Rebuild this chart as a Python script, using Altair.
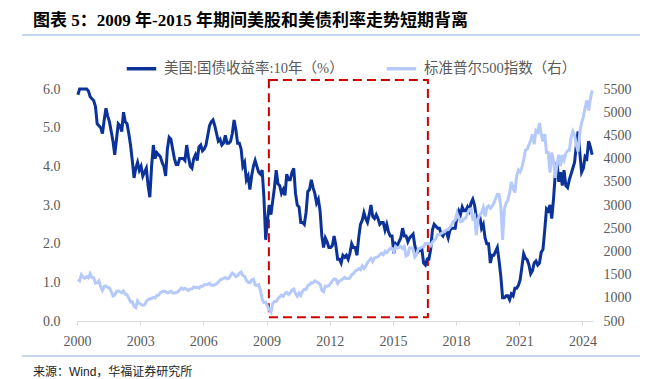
import altair as alt
import pandas as pd

# ---------------- data (monthly, Jan 2000 - Jun 2024) ----------------
yield_10y = [
    5.85, 6.0, 6.0, 6.0, 6.0, 6.0, 5.95, 5.8, 5.75, 5.7, 5.55, 5.1,      # 2000
    5.05, 5.0, 4.85, 5.2, 5.5, 5.3, 5.15, 4.9, 4.65, 4.3, 4.7, 5.1,      # 2001
    5.05, 4.9, 5.4, 5.15, 5.1, 4.85, 4.55, 4.15, 3.7, 3.95, 4.1, 3.9,    # 2002
    4.0, 3.75, 3.85, 3.95, 3.5, 3.2, 4.0, 4.55, 4.2, 4.35, 4.3, 4.25,    # 2003
    4.1, 4.0, 3.75, 4.45, 4.75, 4.7, 4.45, 4.2, 4.05, 4.05, 4.2, 4.2,    # 2004
    4.2, 4.15, 4.55, 4.25, 4.0, 3.95, 4.2, 4.3, 4.15, 4.5, 4.55, 4.4,    # 2005
    4.45, 4.55, 4.8, 5.05, 5.15, 5.2, 5.05, 4.85, 4.65, 4.7, 4.55, 4.6,  # 2006
    4.8, 4.6, 4.6, 4.65, 4.85, 5.2, 4.95, 4.6, 4.6, 4.45, 4.0, 4.1,      # 2007
    3.65, 3.75, 3.4, 3.75, 4.0, 4.15, 4.0, 3.85, 3.8, 3.9, 3.2, 2.1,     # 2008
    2.6, 3.0, 2.75, 3.1, 3.45, 3.9, 3.55, 3.5, 3.3, 3.4, 3.25, 3.8,      # 2009
    3.65, 3.65, 3.85, 3.95, 3.3, 3.0, 2.95, 2.55, 2.55, 2.5, 2.8, 3.35,  # 2010
    3.4, 3.65, 3.45, 3.3, 3.05, 3.15, 2.85, 2.2, 1.9, 2.15, 2.05, 1.9,   # 2011
    1.9, 1.95, 2.2, 1.95, 1.6, 1.6, 1.5, 1.7, 1.65, 1.7, 1.6, 1.75,      # 2012
    2.0, 1.9, 1.9, 1.7, 2.15, 2.5, 2.6, 2.8, 2.65, 2.55, 2.75, 3.0,      # 2013
    2.7, 2.65, 2.75, 2.65, 2.5, 2.55, 2.55, 2.35, 2.5, 2.3, 2.2, 2.2,    # 2014
    1.75, 2.0, 1.95, 2.05, 2.15, 2.4, 2.2, 2.2, 2.05, 2.15, 2.2, 2.25,   # 2015
    1.95, 1.75, 1.8, 1.85, 1.85, 1.5, 1.45, 1.6, 1.6, 1.85, 2.35, 2.5,   # 2016
    2.45, 2.4, 2.4, 2.25, 2.2, 2.3, 2.3, 2.15, 2.35, 2.4, 2.4, 2.4,      # 2017
    2.7, 2.85, 2.75, 2.95, 2.85, 2.85, 2.95, 2.85, 3.05, 3.15, 3.0, 2.7, # 2018
    2.65, 2.7, 2.4, 2.5, 2.15, 2.0, 2.0, 1.5, 1.7, 1.7, 1.8, 1.9,        # 2019
    1.55, 1.15, 0.6, 0.6, 0.65, 0.65, 0.55, 0.7, 0.65, 0.85, 0.85, 0.92, # 2020
    1.07, 1.4, 1.74, 1.63, 1.58, 1.45, 1.22, 1.3, 1.5, 1.55, 1.45, 1.5,  # 2021
    1.78, 1.85, 2.35, 2.9, 2.85, 3.0, 2.65, 3.15, 3.8, 4.1, 3.6, 3.85,   # 2022
    3.5, 3.9, 3.5, 3.45, 3.65, 3.8, 3.95, 4.1, 4.55, 4.9, 4.35, 3.85,    # 2023
    3.95, 4.25, 4.2, 4.65, 4.5, 4.3,                                     # 2024
]

spx = [
    1394, 1366, 1499, 1452, 1421, 1455, 1431, 1518, 1437, 1429, 1315, 1320,  # 2000
    1366, 1240, 1160, 1249, 1256, 1224, 1211, 1134, 1041, 1060, 1139, 1148,  # 2001
    1130, 1107, 1147, 1077, 1067, 990, 912, 916, 815, 790, 936, 880,         # 2002
    856, 841, 848, 917, 964, 975, 990, 1008, 996, 1051, 1058, 1112,          # 2003
    1131, 1145, 1126, 1107, 1121, 1141, 1102, 1104, 1115, 1130, 1174, 1212,  # 2004
    1181, 1204, 1181, 1157, 1192, 1191, 1234, 1220, 1229, 1207, 1249, 1248,  # 2005
    1280, 1281, 1295, 1311, 1270, 1270, 1277, 1304, 1336, 1378, 1401, 1418,  # 2006
    1438, 1407, 1421, 1482, 1531, 1503, 1455, 1474, 1527, 1555, 1481, 1468,  # 2007
    1379, 1331, 1323, 1386, 1400, 1280, 1267, 1283, 1166, 969, 896, 903,     # 2008
    826, 740, 690, 873, 919, 919, 987, 1021, 1057, 1036, 1096, 1115,         # 2009
    1074, 1104, 1169, 1187, 1089, 1031, 1102, 1049, 1141, 1183, 1181, 1258,  # 2010
    1286, 1327, 1326, 1364, 1345, 1321, 1292, 1160, 1131, 1253, 1247, 1258,  # 2011
    1312, 1366, 1408, 1398, 1310, 1362, 1379, 1407, 1441, 1412, 1416, 1426,  # 2012
    1498, 1515, 1569, 1598, 1631, 1606, 1686, 1633, 1682, 1757, 1806, 1848,  # 2013
    1783, 1859, 1872, 1884, 1924, 1960, 1931, 2003, 1972, 2018, 2068, 2059,  # 2014
    1995, 2105, 2068, 2086, 2107, 2063, 2104, 1900, 1920, 2079, 2080, 2044,  # 2015
    1880, 1932, 2060, 2065, 2097, 2099, 2174, 2171, 2168, 2126, 2199, 2239,  # 2016
    2279, 2364, 2363, 2384, 2412, 2423, 2470, 2472, 2519, 2575, 2648, 2674,  # 2017
    2824, 2714, 2641, 2648, 2705, 2718, 2816, 2902, 2914, 2712, 2760, 2350,  # 2018
    2704, 2784, 2834, 2946, 2752, 2942, 2980, 2926, 2977, 3038, 3141, 3231,  # 2019
    3226, 2954, 2250, 2912, 3044, 3100, 3271, 3500, 3363, 3270, 3622, 3756,  # 2020
    3714, 3811, 3973, 4181, 4204, 4298, 4395, 4523, 4308, 4605, 4567, 4766,  # 2021
    4516, 4374, 4530, 4132, 4132, 3700, 4130, 3955, 3586, 3872, 4080, 3840,  # 2022
    4077, 3970, 4109, 4169, 4180, 4450, 4589, 4508, 4288, 4150, 4568, 4770,  # 2023
    4900, 5100, 5254, 5036, 5278, 5470,                                      # 2024
]

start_year = 2000
x_ticks = [2000, 2003, 2006, 2009, 2012, 2015, 2018, 2021, 2024]
left_ticks = [0, 1, 2, 3, 4, 5, 6]
right_ticks = [500, 1000, 1500, 2000, 2500, 3000, 3500, 4000, 4500, 5000, 5500]

# highlighted period box (2009 - 2016.7)
box_x = [2009.11]
box_x2 = [2016.66]
box_y = [0.10]
box_y2 = [6.23]

NAME_Y = "美国:国债收益率:10年（%）"
NAME_S = "标准普尔500指数（右）"
TITLE = "图表 5：2009 年-2015 年期间美股和美债利率走势短期背离"
SOURCE = "来源：Wind，华福证券研究所"

DARK = "#0a3299"
LIGHT = "#b5cafa"
RED = "#cc0000"
RULE = "#8eaadb"
LABEL = "#595959"
SERIF = "Liberation Serif, Noto Sans CJK SC"

t = [start_year + (i + 0.5) / 12 for i in range(len(yield_10y))]
df_y = pd.DataFrame({"t": t, "v": yield_10y, "series": NAME_Y})
df_s = pd.DataFrame({"t": t, "v": spx, "series": NAME_S})
box = pd.DataFrame({"x0": box_x, "x1": box_x2, "y0": box_y, "y1": box_y2})
one = pd.DataFrame({"a": [0]})

x_axis = alt.Axis(values=x_ticks, format="d", title=None, grid=False,
                  domainColor="#d9d9d9", tickColor="#d9d9d9", tickSize=4,
                  labelFlush=False, labelOverlap=False,
                  labelFont=SERIF, labelFontSize=14, labelColor=LABEL, labelPadding=9)
x_scale = alt.Scale(domain=[2000, 2024.5], nice=False, zero=False)

y_left_axis = alt.Axis(values=left_ticks, format=".1f", title=None, grid=False,
                       domain=False, ticks=False, tickSize=0, orient="left",
                       labelFlush=False, labelOverlap=False,
                       labelFont=SERIF, labelFontSize=14, labelColor=LABEL, labelPadding=17)
y_left_scale = alt.Scale(domain=[0, 6], nice=False, zero=False)

y_right_axis = alt.Axis(values=right_ticks, format="d", title=None, grid=False,
                        domain=False, ticks=False, tickSize=0, orient="right",
                        labelFlush=False, labelOverlap=False,
                        labelFont=SERIF, labelFontSize=14, labelColor=LABEL, labelPadding=10)
y_right_scale = alt.Scale(domain=[500, 5500], nice=False, zero=False)

color_scale = alt.Scale(domain=[NAME_Y, NAME_S], range=[DARK, LIGHT])
legend = alt.Legend(orient="none", legendX=48, legendY=-37, direction="horizontal",
                    title=None, symbolType="stroke", symbolSize=870, symbolStrokeWidth=3.5,
                    labelFont=SERIF, labelFontSize=14.5, labelColor=LABEL, labelLimit=400,
                    columnPadding=35, padding=0, labelOffset=6)

rect = alt.Chart(box).mark_rect(fillOpacity=0, stroke=RED, strokeWidth=2,
                                 strokeDash=[9, 5]).encode(
    x=alt.X("x0:Q", scale=x_scale, axis=x_axis),
    x2="x1",
    y=alt.Y("y0:Q", scale=y_left_scale, axis=y_left_axis),
    y2="y1",
)

yline = alt.Chart(df_y).mark_line(strokeWidth=3).encode(
    x=alt.X("t:Q", scale=x_scale, axis=x_axis),
    y=alt.Y("v:Q", scale=y_left_scale, axis=y_left_axis),
    color=alt.Color("series:N", scale=color_scale, legend=legend),
)

sline = alt.Chart(df_s).mark_line(strokeWidth=3).encode(
    x=alt.X("t:Q", scale=x_scale, axis=x_axis),
    y=alt.Y("v:Q", scale=y_right_scale, axis=y_right_axis),
    color=alt.Color("series:N", scale=color_scale, legend=legend),
)

title_txt = alt.Chart(one).mark_text(
    text=TITLE, font=SERIF, fontSize=17, fontWeight="bold", color="#000000",
    align="left", baseline="alphabetic").encode(x=alt.value(-44), y=alt.value(-63))

src_txt = alt.Chart(one).mark_text(
    text=SOURCE, font="Liberation Sans, Noto Sans CJK SC", fontSize=12, color="#222222",
    align="left", baseline="middle").encode(x=alt.value(-44), y=alt.value(283))

rule_top = alt.Chart(one).mark_rule(color=RULE, strokeWidth=1.2).encode(
    x=alt.value(-55), x2=alt.value(563), y=alt.value(-54))
rule_bot = alt.Chart(one).mark_rule(color=RULE, strokeWidth=1.2).encode(
    x=alt.value(-55), x2=alt.value(563), y=alt.value(267))

left_block = alt.layer(rect, yline)

chart = alt.layer(
    left_block, sline, title_txt, src_txt, rule_top, rule_bot
).resolve_scale(y="independent").properties(
    width=516, height=232,
    autosize=alt.AutoSizeParams(type="none"),
    padding={"left": 69, "top": 81, "right": 47, "bottom": 58},
    background="white",
).configure_view(stroke=None)

chart.save("out.html", embed_options={"renderer": "svg", "actions": False})
